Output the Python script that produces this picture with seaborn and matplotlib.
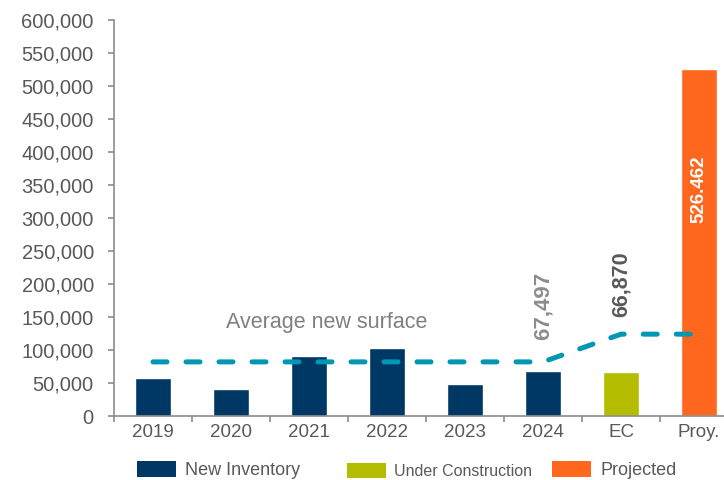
import numpy as np
import pandas as pd
import matplotlib.pyplot as plt
import seaborn as sns
from matplotlib.patches import Patch
from matplotlib.ticker import FixedLocator, FuncFormatter

# Data
categories = ["2019", "2020", "2021", "2022", "2023", "2024", "EC", "Proy."]
values = [57600, 41000, 90500, 103000, 48500, 67497, 66870, 526462]
series = ["New Inventory"] * 6 + ["Under Construction", "Projected"]
avg_surface = [82000, 82000, 82000, 82000, 82000, 82000, 124000, 124000]
y_ticks = list(range(0, 600001, 50000))

colors = {"New Inventory": "#003865", "Under Construction": "#B5BD00", "Projected": "#FF671F"}
line_color = "#0097B5"
text_gray = "#595959"

sns.set_style("white")
plt.rcParams["font.family"] = ["Liberation Sans", "DejaVu Sans"]

df = pd.DataFrame({"category": categories, "value": values, "series": series})

fig = plt.figure(figsize=(7.24, 4.80), dpi=100)
ax = fig.add_axes([114 / 724, 64 / 480, 610 / 724, 396 / 480])

sns.barplot(data=df, x="category", y="value", hue="series", palette=colors,
            dodge=False, width=0.46, saturation=1, legend=False, ax=ax)

# Average new surface dashed line
pos = np.arange(len(categories))
sns.lineplot(x=pos, y=avg_surface, color=line_color, linewidth=3.6, ax=ax)
line = ax.lines[-1]
line.set_linestyle((0, (2.8, 3.8)))
line.set_dash_capstyle("round")

# Axes styling
ax.set_xlim(-0.5, -0.5 + 610 / 78)
ax.set_ylim(0, 600000)
ax.set_xlabel("")
ax.set_ylabel("")
for s in ["top", "right"]:
    ax.spines[s].set_visible(False)
for s in ["left", "bottom"]:
    ax.spines[s].set_color("#8C8C8C")
    ax.spines[s].set_linewidth(1.2)

ax.yaxis.set_major_locator(FixedLocator(y_ticks))
ax.yaxis.set_major_formatter(FuncFormatter(lambda v, p: f"{int(v):,}"))
ax.tick_params(axis="y", which="major", left=True, length=4.5, width=1.2,
               color="#8C8C8C", pad=10, labelsize=14.5, labelcolor=text_gray)

ax.set_xticks(pos)
ax.set_xticklabels(categories)
ax.xaxis.set_minor_locator(FixedLocator(np.arange(len(categories) + 1) - 0.5))
ax.tick_params(axis="x", which="major", bottom=True, length=0, pad=6,
               labelsize=13.5, labelcolor=text_gray)
ax.tick_params(axis="x", which="minor", bottom=True, length=4.5, width=1.2,
               color="#8C8C8C")

# Annotations
ax.text(0.94, 133000, "Average new surface", fontsize=15.5, color="#808080",
        ha="left", va="baseline")
ax.text(5, 115000, f"{values[5]:,}", rotation=90, fontsize=16, fontweight="bold",
        color="#8C8C8C", ha="center", va="bottom")
ax.text(6, 150000, f"{values[6]:,}", rotation=90, fontsize=15.5, fontweight="bold",
        color=text_gray, ha="center", va="bottom")
ax.text(7, 344000, f"{values[7]:,}".replace(",", "."), rotation=90, fontsize=13.5,
        fontweight="bold", color="white", ha="center", va="center")

# Legend, one box per entry to keep the uneven spacing
legend_specs = [("New Inventory", 13, 137), ("Under Construction", 11.5, 347), ("Projected", 13, 552)]
for name, size, x0 in legend_specs:
    leg = fig.legend(handles=[Patch(facecolor=colors[name], edgecolor="none")],
                     labels=[name], loc="lower left",
                     bbox_to_anchor=(x0 / 724, 1 / 480), frameon=False,
                     fontsize=size, handlelength=39 / 18 * 13 / size,
                     handleheight=1.0, handletextpad=0.5, borderpad=0,
                     borderaxespad=0, labelcolor=text_gray)

fig.savefig("out.png", dpi=100)
